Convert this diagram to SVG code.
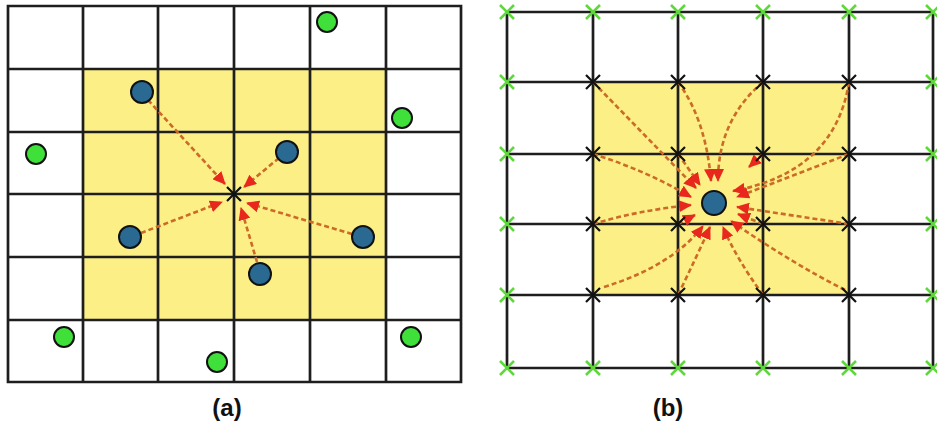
<svg xmlns="http://www.w3.org/2000/svg" width="937" height="430" viewBox="0 0 937 430">
<defs>
<style>
.grid{stroke:#1e1e1e;stroke-width:2.7;fill:none;stroke-linecap:square}
.yel{fill:#fcef86;stroke:none}
.blue{fill:#2a6a92;stroke:#111;stroke-width:2}
.green{fill:#3fe03a;stroke:#111;stroke-width:2}
.xb{stroke:#111;stroke-width:2.2;fill:none}
.xg{stroke:#5fd83c;stroke-width:2.6;fill:none}
.arr{stroke:#cc6a28;stroke-width:2.6;stroke-dasharray:5 3;fill:none;marker-end:url(#ah)}
.lbl{font-family:"Liberation Sans",Arial,sans-serif;font-weight:bold;font-size:24px;fill:#111;text-anchor:middle}
</style>
<marker id="ah" markerUnits="userSpaceOnUse" markerWidth="13" markerHeight="12" refX="12" refY="6" orient="auto">
<path d="M0,0 L13,6 L0,12 z" fill="#e8281c"/>
</marker>
<g id="xmk"><path d="M-7,-7 L7,7 M-7,7 L7,-7"/></g>
</defs>
<rect width="937" height="430" fill="#ffffff"/>

<!-- Panel (a) -->
<g id="panel-a">
<rect class="yel" x="83" y="69" width="303" height="251"/>
<path class="grid" d="M8,6 H461 V382 H8 Z M83,6 V382 M158,6 V382 M234,6 V382 M310,6 V382 M386,6 V382 M8,69 H461 M8,132 H461 M8,194 H461 M8,257 H461 M8,320 H461"/>
</g>

<!-- Panel (b) -->
<g id="panel-b">
<rect class="yel" x="593" y="82" width="256" height="213"/>
<path class="grid" d="M507,12 H933 V368 H507 Z M593,12 V368 M678,12 V368 M763,12 V368 M849,12 V368 M507,82 H933 M507,154 H933 M507,224 H933 M507,295 H933"/>
</g>

<g id="connectors">
<path class="arr" d="M148,100 L225,184"/>
<path class="arr" d="M279,158 L244,187"/>
<path class="arr" d="M141,233 L222,202"/>
<path class="arr" d="M352,234 L247,203"/>
<path class="arr" d="M257,262 L241,208"/>

<path class="arr" d="M593,82 L696,188"/>
<path class="arr" d="M678,82 Q706,120 711,181"/>
<path class="arr" d="M763,82 Q718,120 718,181"/>
<path class="arr" d="M849,82 Q835,172 733,191"/>
<path class="arr" d="M593,154 Q645,170 691,197"/>
<path class="arr" d="M678,154 L700,185"/>
<path class="arr" d="M763,154 L749,167"/>
<path class="arr" d="M849,154 L737,197"/>
<path class="arr" d="M593,224 Q640,210 691,205"/>
<path class="arr" d="M678,224 L695,215"/>
<path class="arr" d="M763,224 L738,214"/>
<path class="arr" d="M849,224 L737,207"/>
<path class="arr" d="M604,287 Q672,266 703,226"/>
<path class="arr" d="M678,295 Q696,258 710,227"/>
<path class="arr" d="M763,295 Q736,258 723,227"/>
<path class="arr" d="M845,290 Q790,262 731,221"/>
</g>

<!-- Nodes (a) -->
<g id="gridpoint-a"><use href="#xmk" class="xb" x="234" y="194"/></g>
<g id="p-a1"><circle class="blue" cx="142" cy="92" r="11"/></g>
<g id="p-a2"><circle class="blue" cx="287" cy="152" r="11"/></g>
<g id="p-a3"><circle class="blue" cx="130" cy="237" r="11"/></g>
<g id="p-a4"><circle class="blue" cx="363" cy="237" r="11"/></g>
<g id="p-a5"><circle class="blue" cx="260" cy="274" r="11"/></g>
<g id="g-a1"><circle class="green" cx="327" cy="22" r="10"/></g>
<g id="g-a2"><circle class="green" cx="402" cy="118" r="10"/></g>
<g id="g-a3"><circle class="green" cx="36" cy="154" r="10"/></g>
<g id="g-a4"><circle class="green" cx="64" cy="337" r="10"/></g>
<g id="g-a5"><circle class="green" cx="217" cy="362" r="10"/></g>
<g id="g-a6"><circle class="green" cx="411" cy="337" r="10"/></g>

<!-- Nodes (b) -->
<g id="black-x" class="xb">
<use href="#xmk" x="593" y="82"/><use href="#xmk" x="678" y="82"/><use href="#xmk" x="763" y="82"/><use href="#xmk" x="849" y="82"/>
<use href="#xmk" x="593" y="154"/><use href="#xmk" x="678" y="154"/><use href="#xmk" x="763" y="154"/><use href="#xmk" x="849" y="154"/>
<use href="#xmk" x="593" y="224"/><use href="#xmk" x="678" y="224"/><use href="#xmk" x="763" y="224"/><use href="#xmk" x="849" y="224"/>
<use href="#xmk" x="593" y="295"/><use href="#xmk" x="678" y="295"/><use href="#xmk" x="763" y="295"/><use href="#xmk" x="849" y="295"/>
</g>
<g id="green-x" class="xg">
<use href="#xmk" x="507" y="12"/><use href="#xmk" x="593" y="12"/><use href="#xmk" x="678" y="12"/><use href="#xmk" x="763" y="12"/><use href="#xmk" x="849" y="12"/><use href="#xmk" x="933" y="12"/>
<use href="#xmk" x="507" y="368"/><use href="#xmk" x="593" y="368"/><use href="#xmk" x="678" y="368"/><use href="#xmk" x="763" y="368"/><use href="#xmk" x="849" y="368"/><use href="#xmk" x="933" y="368"/>
<use href="#xmk" x="507" y="82"/><use href="#xmk" x="507" y="154"/><use href="#xmk" x="507" y="224"/><use href="#xmk" x="507" y="295"/>
<use href="#xmk" x="933" y="82"/><use href="#xmk" x="933" y="154"/><use href="#xmk" x="933" y="224"/><use href="#xmk" x="933" y="295"/>
</g>
<g id="p-b"><circle class="blue" cx="714" cy="203" r="12"/></g>

<text class="lbl" x="227" y="416">(a)</text>
<text class="lbl" x="668" y="416">(b)</text>
</svg>
